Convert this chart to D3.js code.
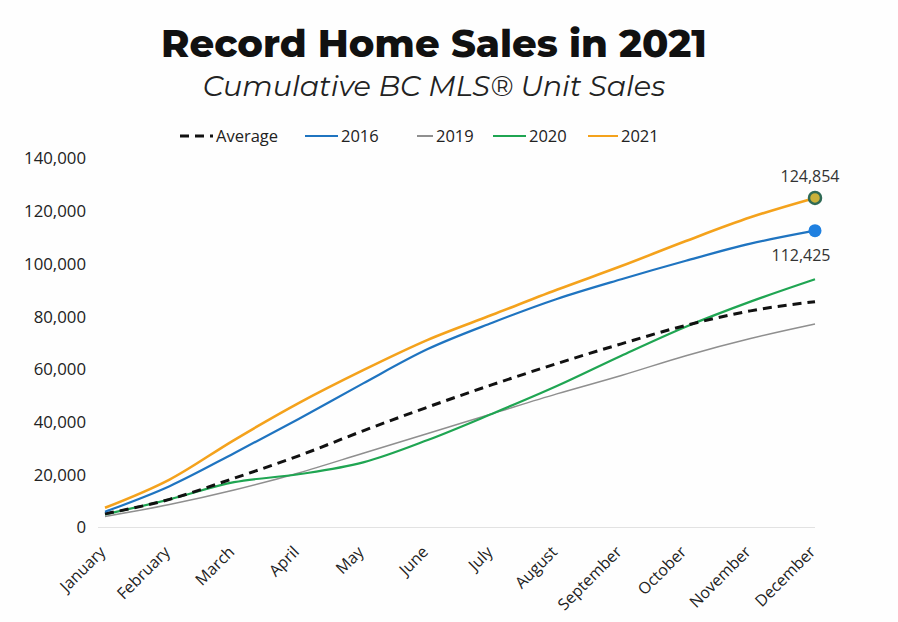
<!DOCTYPE html>
<html>
<head>
<meta charset="utf-8">
<script src="https://cdn.jsdelivr.net/npm/d3@7"></script>
<style>
  html, body { margin: 0; padding: 0; background: #fefefe; }
  svg { display: block; }
</style>
</head>
<body>
<svg id="chart" width="898" height="622"></svg>
<script>
const months = ["January","February","March","April","May","June","July","August","September","October","November","December"];
const yTicks = [0, 20000, 40000, 60000, 80000, 100000, 120000, 140000];
const seriesNames = ["Average", "2016", "2019", "2020", "2021"];
const average = [5000, 10500, 18500, 27000, 36500, 45500, 54000, 62000, 69500, 76500, 82000, 85500];
const s2016 = [5800, 15500, 28000, 41000, 54500, 67500, 77500, 86500, 94000, 101000, 107500, 112425];
const s2019 = [4000, 8500, 14000, 20500, 28000, 35500, 43000, 50500, 57500, 65000, 71500, 77000];
const s2020 = [4800, 10500, 17000, 20000, 24500, 33000, 43000, 53500, 65000, 76000, 85500, 94000];
const s2021 = [7300, 18000, 33000, 47000, 59500, 71000, 80500, 90000, 99000, 108500, 117500, 124854];

const colors = { "Average": "#111", "2016": "#1f74c0", "2019": "#8f8f8f", "2020": "#1fa552", "2021": "#f4a21c" };
const widths = { "Average": 3, "2016": 2.2, "2019": 1.5, "2020": 2.2, "2021": 2.6 };
const dataMap = { "Average": average, "2016": s2016, "2019": s2019, "2020": s2020, "2021": s2021 };

const svg = d3.select("#chart");
const x = d3.scalePoint().domain(months).range([105, 815]);
const y = d3.scaleLinear().domain([0, 140000]).range([527, 158]);

// Titles
svg.append("text").attr("x", 434).attr("y", 57).attr("text-anchor", "middle")
  .attr("font-family", "Montserrat, Lato, 'Open Sans', sans-serif").attr("font-weight", 800)
  .attr("font-size", 38.5).attr("fill", "#111").text("Record Home Sales in 2021");
svg.append("text").attr("x", 434).attr("y", 96).attr("text-anchor", "middle")
  .attr("font-family", "Montserrat, Lato, 'Open Sans', sans-serif").attr("font-style", "italic")
  .attr("font-size", 28.7).attr("fill", "#222").text("Cumulative BC MLS® Unit Sales");

// Y axis labels
const yAxis = d3.axisLeft(y).tickValues(yTicks).tickSize(0).tickPadding(0)
  .tickFormat(d => d3.format(",")(d));
const gy = svg.append("g").attr("transform", "translate(86,0)").call(yAxis);
gy.select(".domain").remove();
gy.selectAll("text").attr("font-family", "'Open Sans', sans-serif").attr("font-size", 16.8).attr("fill", "#222").attr("dy", "0.35em");

// Baseline
svg.append("line").attr("x1", 98).attr("x2", 815).attr("y1", y(0) + 0.5).attr("y2", y(0) + 0.5)
  .attr("stroke", "#e2e2e2").attr("stroke-width", 1.2);

// X axis labels
const xAxis = d3.axisBottom(x).tickSize(0).tickPadding(0);
const gx = svg.append("g").attr("transform", `translate(0,${y(0)})`).call(xAxis);
gx.select(".domain").remove();
gx.selectAll("text")
  .attr("font-family", "'Open Sans', sans-serif").attr("font-size", 16).attr("fill", "#222")
  .attr("text-anchor", "end")
  .attr("transform", "translate(-3,22) rotate(-45)")
  .attr("dy", "0.35em").attr("dx", 0).attr("y", 0);

// Lines
const line = d3.line().x((d, i) => x(months[i])).y(d => y(d)).curve(d3.curveMonotoneX);
const drawOrder = ["2019", "2020", "Average", "2016", "2021"];
drawOrder.forEach(name => {
  svg.append("path").datum(dataMap[name]).attr("d", line)
    .attr("fill", "none").attr("stroke", colors[name]).attr("stroke-width", widths[name])
    .attr("stroke-linecap", "butt")
    .attr("stroke-dasharray", name === "Average" ? "9,6" : null);
});

// End markers
svg.append("circle").attr("cx", x("December")).attr("cy", y(s2016[11])).attr("r", 6.5)
  .attr("fill", "#1f80e0");
svg.append("circle").attr("cx", x("December")).attr("cy", y(s2021[11])).attr("r", 6)
  .attr("fill", "#c9b13a").attr("stroke", "#2f6a55").attr("stroke-width", 2.5);

svg.append("text").attr("x", 810).attr("y", 182).attr("text-anchor", "middle")
  .attr("font-family", "'Open Sans', sans-serif").attr("font-size", 16).attr("fill", "#333")
  .text(d3.format(",")(s2021[11]));
svg.append("text").attr("x", 801).attr("y", 261).attr("text-anchor", "middle")
  .attr("font-family", "'Open Sans', sans-serif").attr("font-size", 16).attr("fill", "#333")
  .text(d3.format(",")(s2016[11]));

// Legend
const legendPos = { "Average": 180, "2016": 305, "2019": 417, "2020": 493, "2021": 588 };
const legendLen = { "Average": 33, "2016": 33, "2019": 16, "2020": 33, "2021": 30 };
seriesNames.forEach(name => {
  const lx = legendPos[name];
  svg.append("line").attr("x1", lx).attr("x2", lx + legendLen[name]).attr("y1", 136).attr("y2", 136)
    .attr("stroke", colors[name]).attr("stroke-width", name === "Average" ? 3 : 2)
    .attr("stroke-dasharray", name === "Average" ? "9,6" : null);
  svg.append("text").attr("x", lx + legendLen[name] + 3).attr("y", 136).attr("dy", "0.35em")
    .attr("font-family", "'Open Sans', sans-serif").attr("font-size", 16.5).attr("fill", "#222").text(name);
});
</script>
</body>
</html>
